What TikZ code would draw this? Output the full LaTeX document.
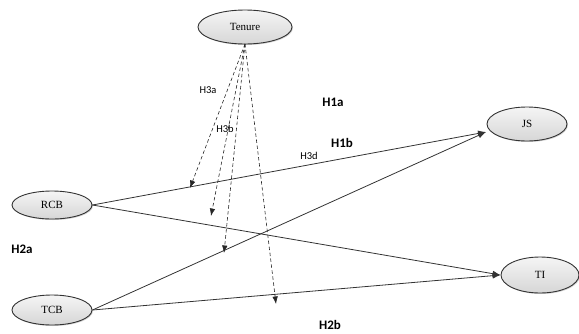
\documentclass[tikz,border=0pt]{standalone}
\usepackage{fontspec}
\setmainfont{Liberation Serif}
\newfontfamily\labfont{Carlito}
\usetikzlibrary{arrows.meta,shadows,shapes.geometric}
\begin{document}
\begin{tikzpicture}[x=1pt,y=-1pt,
  constr/.style={ellipse, draw=black!80, line width=0.9pt, top color=gray!8, bottom color=gray!32,
    minimum width=80pt, minimum height=32pt, inner sep=0pt, font=\fontsize{11}{12}\selectfont,
    drop shadow={shadow xshift=1pt, shadow yshift=-1pt, opacity=0.35}},
  relpath/.style={draw=black!80, line width=0.8pt, -{Latex[length=8pt,width=6pt]}},
  modpath/.style={draw=black!85, line width=0.6pt, dash pattern=on 3.5pt off 2.5pt, -{Latex[length=7.5pt,width=5.5pt]}},
  hsmall/.style={font=\labfont\fontsize{10.5}{12}\selectfont, text=black},
  hbig/.style={font=\labfont\bfseries\fontsize{13}{14}\selectfont}]
\useasboundingbox (0,0) rectangle (579,333);
\node[constr, minimum width=94pt, minimum height=34pt] (ten) at (245,27) {Tenure};
\node[constr, minimum height=28pt] (rcb) at (52,205) {RCB};
\node[constr, minimum height=30pt] (tcb) at (52,310) {TCB};
\node[constr, minimum height=34pt] (js) at (527,124) {JS};
\node[constr, minimum width=78pt, minimum height=36pt] (ti) at (540,275) {TI};
\coordinate (jsin) at (486,132);
\draw[relpath] (rcb.east) -- (jsin);
\draw[relpath] (tcb.east) -- (jsin);
\draw[relpath] (rcb.east) -- (ti.west);
\draw[relpath] (tcb.east) -- (ti.west);
\coordinate (ts) at (245,44);
\coordinate (m1) at (190,188);
\coordinate (m2) at (211,216);
\coordinate (m3) at (224,253);
\coordinate (m4) at (276,304);
\draw[modpath] (ts) -- (m1);
\draw[modpath] (ts) -- (m2);
\draw[modpath] (ts) -- (m3);
\draw[modpath] (ts) -- (m4);
\node[hsmall] (h3a) at (208,90) {H3a};
\node[hsmall] (h3b) at (225,129) {H3b};
\node[hsmall] (h3d) at (309,156) {H3d};
\node[hbig] (h1a) at (333,102) {H1a};
\node[hbig] (h1b) at (342,143) {H1b};
\node[hbig] (h2a) at (22,249) {H2a};
\node[hbig] (h2b) at (330,325) {H2b};
\end{tikzpicture}
\end{document}
